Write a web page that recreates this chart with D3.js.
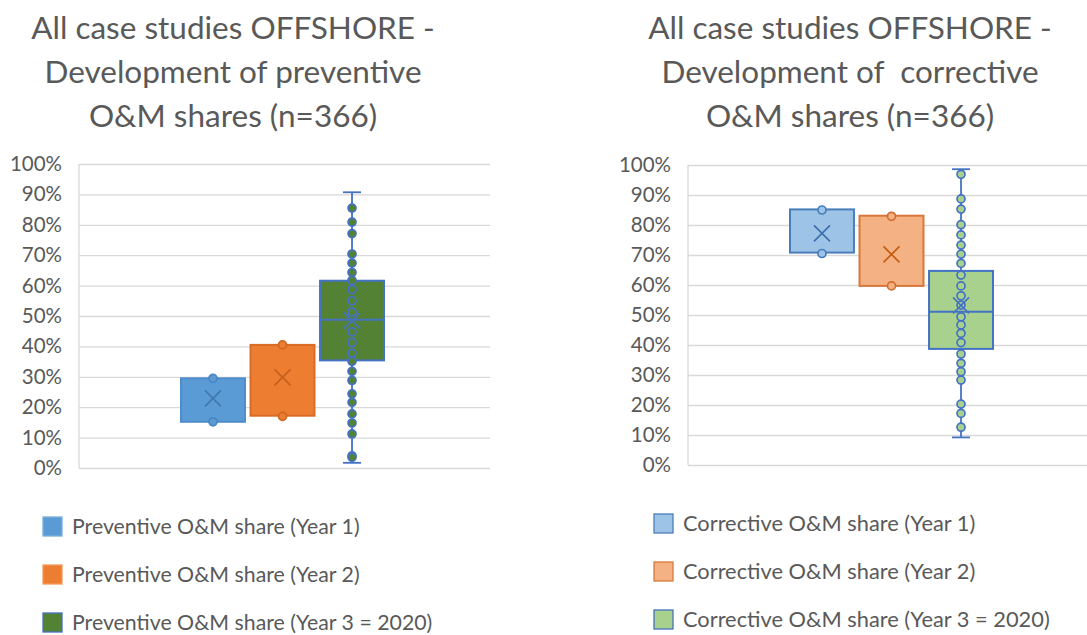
<!DOCTYPE html>
<html>
<head>
<meta charset="utf-8">
<script src="https://cdn.jsdelivr.net/npm/d3@7"></script>
<style>
  body { margin: 0; background: #fff; }
  svg { display: block; font-family: Lato, "Open Sans", sans-serif; }
</style>
</head>
<body>
<script>
// Canvas
const width = 1087;
const height = 635;

// ---- Preventive shares (left chart) ----
const prevTitle = ["All case studies OFFSHORE -", "Development of preventive", "O&M shares (n=366)"];
const prevSeries = ["Preventive O&M share (Year 1)", "Preventive O&M share (Year 2)", "Preventive O&M share (Year 3 = 2020)"];
const prevQ1 = [0.152, 0.172, 0.354];
const prevQ3 = [0.295, 0.405, 0.616];
const prevMedian = [null, null, 0.488];
const prevMean = [0.229, 0.298, 0.485];
const prevWhiskerLow = [null, null, 0.017];
const prevWhiskerHigh = [null, null, 0.907];
const prevPoints = [
    [0.152, 0.295],
    [0.170, 0.405],
    [0.855, 0.809, 0.771, 0.704, 0.674, 0.643, 0.617, 0.587, 0.550, 0.513, 0.448, 0.413,
     0.378, 0.351, 0.318, 0.288, 0.244, 0.216, 0.178, 0.148, 0.112, 0.040, 0.035]
];

// ---- Corrective shares (right chart) ----
const corrTitle = ["All case studies OFFSHORE -", "Development of\u00a0 corrective", "O&M shares (n=366)"];
const corrSeries = ["Corrective O&M share (Year 1)", "Corrective O&M share (Year 2)", "Corrective O&M share (Year 3 = 2020)"];
const corrQ1 = [0.708, 0.597, 0.387];
const corrQ3 = [0.852, 0.831, 0.647];
const corrMedian = [null, null, 0.511];
const corrMean = [0.772, 0.702, 0.532];
const corrWhiskerLow = [null, null, 0.092];
const corrWhiskerHigh = [null, null, 0.986];
const corrPoints = [
    [0.850, 0.705],
    [0.829, 0.597],
    [0.969, 0.887, 0.853, 0.801, 0.767, 0.733, 0.703, 0.672, 0.633, 0.597, 0.564, 0.533,
     0.494, 0.467, 0.439, 0.408, 0.370, 0.339, 0.311, 0.283, 0.203, 0.172, 0.126]
];

const svg = d3.select("body").append("svg")
    .attr("width", width)
    .attr("height", height);

svg.append("rect").attr("width", width).attr("height", height).attr("fill", "#fff");

function drawPanel(p) {
    const g = svg.append("g");
    const y = d3.scaleLinear().domain([0, 1]).range([p.bottom, p.top]);
    const x = d3.scaleBand()
        .domain(p.series)
        .range([p.left + 102, p.left + 305])
        .paddingInner(0.08);

    // Title
    const title = g.append("text")
        .attr("x", p.titleX)
        .attr("y", 39)
        .attr("text-anchor", "middle")
        .attr("fill", "#595959")
        .style("font-size", "31.5px");
    p.title.forEach((t, i) => {
        title.append("tspan").attr("x", p.titleX).attr("dy", i === 0 ? 0 : 44).text(t);
    });

    // Gridlines and tick labels
    g.append("g")
        .attr("transform", `translate(${p.left},0)`)
        .call(d3.axisLeft(y).ticks(10).tickSize(-p.plotW).tickPadding(17).tickFormat(d3.format(".0%")))
        .call(a => a.select(".domain").remove())
        .call(a => a.selectAll(".tick line").attr("stroke", "#d9d9d9").attr("stroke-width", 1.3))
        .call(a => a.selectAll(".tick text")
            .attr("fill", "#595959")
            .style("font-size", "20.5px")
            .style("font-family", "Lato, sans-serif"));

    // Vertical axis line
    g.append("line")
        .attr("x1", p.left).attr("x2", p.left)
        .attr("y1", y(1)).attr("y2", y(0))
        .attr("stroke", "#d9d9d9").attr("stroke-width", 1.3);

    p.series.forEach((s, i) => {
        const c = p.colors[i];
        const cx = x(s) + x.bandwidth() / 2;

        // Whiskers
        if (p.whiskerHigh[i] != null) {
            const wg = g.append("g").attr("stroke", c.line).attr("stroke-width", 1.8);
            wg.append("line").attr("x1", cx).attr("x2", cx).attr("y1", y(p.whiskerHigh[i])).attr("y2", y(p.q3[i]));
            wg.append("line").attr("x1", cx).attr("x2", cx).attr("y1", y(p.q1[i])).attr("y2", y(p.whiskerLow[i]));
            wg.append("line").attr("x1", cx - 9).attr("x2", cx + 9).attr("y1", y(p.whiskerHigh[i])).attr("y2", y(p.whiskerHigh[i]));
            wg.append("line").attr("x1", cx - 9).attr("x2", cx + 9).attr("y1", y(p.whiskerLow[i])).attr("y2", y(p.whiskerLow[i]));
        }

        // Box
        g.append("rect")
            .attr("x", x(s))
            .attr("width", x.bandwidth())
            .attr("y", y(p.q3[i]))
            .attr("height", y(p.q1[i]) - y(p.q3[i]))
            .attr("fill", c.fill)
            .attr("stroke", c.stroke)
            .attr("stroke-width", 2);

        // Median
        if (p.median[i] != null) {
            g.append("line")
                .attr("x1", x(s)).attr("x2", x(s) + x.bandwidth())
                .attr("y1", y(p.median[i])).attr("y2", y(p.median[i]))
                .attr("stroke", c.stroke).attr("stroke-width", 2);
        }

        // Points
        g.append("g").selectAll("circle")
            .data(p.points[i])
            .join("circle")
            .attr("cx", cx)
            .attr("cy", d => y(d))
            .attr("r", 4)
            .attr("fill", c.fill)
            .attr("stroke", c.line)
            .attr("stroke-width", 1.7);

        // Mean marker (x)
        const my = y(p.mean[i]);
        const k = 8;
        g.append("path")
            .attr("d", `M${cx - k},${my - k}L${cx + k},${my + k}M${cx - k},${my + k}L${cx + k},${my - k}`)
            .attr("stroke", c.mean)
            .attr("stroke-width", 1.6)
            .attr("fill", "none");

        // Legend
        const ly = p.legendY + i * 48;
        g.append("rect")
            .attr("x", p.legendX).attr("y", ly)
            .attr("width", 19).attr("height", 19)
            .attr("fill", c.fill)
            .attr("stroke", c.legendStroke)
            .attr("stroke-width", 1.3);
        g.append("text")
            .attr("x", p.legendX + 29)
            .attr("y", ly + 17)
            .attr("fill", "#595959")
            .style("font-size", p.legendFont)
            .text(s);
    });
}

drawPanel({
    title: prevTitle, titleX: 233,
    series: prevSeries, q1: prevQ1, q3: prevQ3, median: prevMedian, mean: prevMean,
    whiskerLow: prevWhiskerLow, whiskerHigh: prevWhiskerHigh, points: prevPoints,
    left: 79, plotW: 411, top: 164, bottom: 468,
    legendX: 43, legendY: 517, legendFont: "21.3px",
    colors: [
        { fill: "#5b9bd5", stroke: "#4d8dcb", line: "#4a86c5", mean: "#4177b0", legendStroke: "#7aaedc" },
        { fill: "#ed7d31", stroke: "#d86c27", line: "#d0661f", mean: "#c45f1d", legendStroke: "#f09a60" },
        { fill: "#548235", stroke: "#4472c4", line: "#4472c4", mean: "#4472c4", legendStroke: "#4472c4" }
    ]
});

drawPanel({
    title: corrTitle, titleX: 850,
    series: corrSeries, q1: corrQ1, q3: corrQ3, median: corrMedian, mean: corrMean,
    whiskerLow: corrWhiskerLow, whiskerHigh: corrWhiskerHigh, points: corrPoints,
    left: 688, plotW: 411, top: 165, bottom: 465,
    legendX: 654, legendY: 514, legendFont: "21.8px",
    colors: [
        { fill: "#9dc3e6", stroke: "#4a7ebb", line: "#4a7ebb", mean: "#3c6fae", legendStroke: "#4a7ebb" },
        { fill: "#f4b183", stroke: "#d9773a", line: "#d26e30", mean: "#c55a11", legendStroke: "#d9773a" },
        { fill: "#a9d18e", stroke: "#4472c4", line: "#4472c4", mean: "#4472c4", legendStroke: "#4472c4" }
    ]
});
</script>
</body>
</html>
